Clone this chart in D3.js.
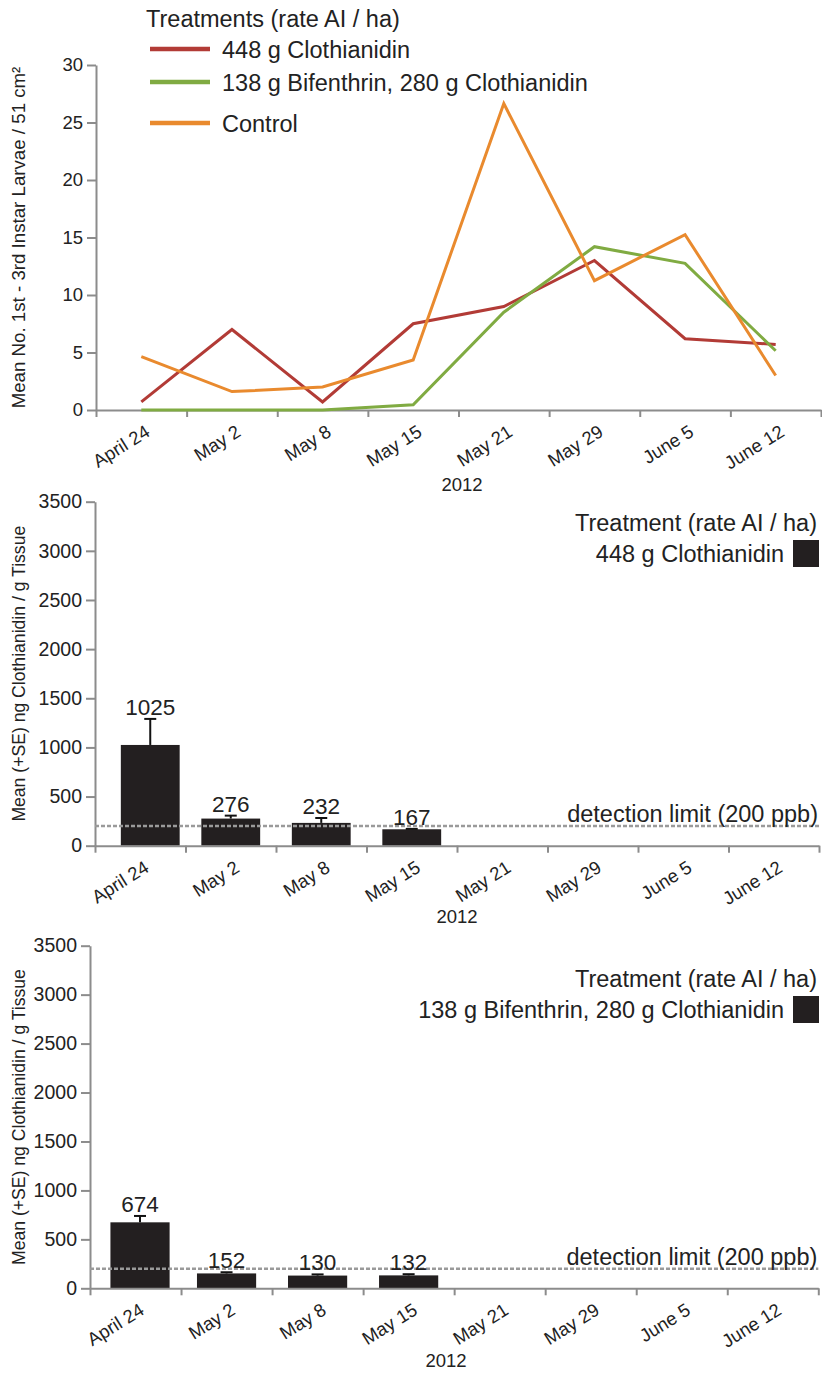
<!DOCTYPE html>
<html>
<head>
<meta charset="utf-8">
<script src="https://cdn.jsdelivr.net/npm/d3@7"></script>
<style>
  body { margin: 0; background: #fff; }
  svg text { font-family: "Liberation Sans", Arial, sans-serif; fill: #222; }
</style>
</head>
<body>
<div id="graph"></div>
<script>
// sampling dates (2012)
var dates = ["April 24", "May 2", "May 8", "May 15", "May 21", "May 29", "June 5", "June 12"];

// top panel: mean larvae per sample
var lineNames = ["448 g Clothianidin", "138 g Bifenthrin, 280 g Clothianidin", "Control"];
var clothianidin448 = [0.7, 7.0, 0.7, 7.5, 9.0, 13.0, 6.2, 5.7];
var bifenthrinMix = [0, 0, 0, 0.45, 8.5, 14.2, 12.75, 5.15];
var control = [4.65, 1.6, 2.0, 4.35, 26.65, 11.25, 15.25, 3.0];
var larvaeTicks = [0, 5, 10, 15, 20, 25, 30];

// residue panels (first four dates only)
var residueTicks = [0, 500, 1000, 1500, 2000, 2500, 3000, 3500];
var residue448 = [1025, 276, 232, 167];
var se448 = [265, 30, 50, 4];
var residueMix = [674, 152, 130, 132];
var seMix = [65, 12, 12, 12];
var detectionLimit = 200;

var colors = ["#b23b36", "#80ab42", "#e98a2e"];
var axisGray = "#8c8c8c";

var svg = d3.select("#graph").append("svg")
    .attr("width", 822)
    .attr("height", 1373);

// shared x axis: 8 bands, ticks at band edges, rotated labels
function drawXAxis(g, x, y0, left, right, yearX, yearY) {
    var edges = d3.scaleLinear().domain([0, dates.length]).range([left, right]);
    g.append("g")
        .attr("transform", "translate(0," + y0 + ")")
        .call(d3.axisBottom(edges).tickValues(d3.range(dates.length + 1)).tickFormat("").tickSize(7).tickSizeOuter(0))
        .call(a => a.selectAll("line, path").attr("stroke", axisGray).attr("stroke-width", 2));

    g.selectAll(".xlab").data(dates).enter()
        .append("text")
        .attr("transform", d => "translate(" + (x(d) + x.bandwidth() / 2 + 10) + "," + (y0 + 25) + ") rotate(-32)")
        .attr("text-anchor", "end")
        .style("font-size", "18.5px")
        .text(d => d);

    g.append("text")
        .attr("x", yearX).attr("y", yearY)
        .attr("text-anchor", "middle")
        .style("font-size", "18.5px")
        .text("2012");
}

function drawYAxis(g, y, ticks, left, fontSize) {
    g.append("g")
        .attr("transform", "translate(" + left + ",0)")
        .call(d3.axisLeft(y).tickValues(ticks).tickFormat(d3.format("d")).tickSize(9).tickSizeOuter(0).tickPadding(4))
        .call(a => a.selectAll("line, path").attr("stroke", axisGray).attr("stroke-width", 2))
        .call(a => a.selectAll("text").style("font-size", fontSize + "px").attr("fill", "#222"));
}

// ---------- top panel: line chart ----------
(function () {
    var left = 96, right = 821, top = 65, bottom = 410;
    var g = svg.append("g");
    var x = d3.scaleBand().domain(dates).range([left, right]);
    var y = d3.scaleLinear().domain([0, 30]).range([bottom, top]);

    drawYAxis(g, y, larvaeTicks, left, 18.5);
    drawXAxis(g, x, bottom, left, right, 462, 491);

    g.append("text")
        .attr("transform", "translate(25," + (top + bottom) / 2 + ") rotate(-90)")
        .attr("text-anchor", "middle")
        .style("font-size", "18.7px")
        .text("Mean No. 1st - 3rd Instar Larvae / 51 cm²");

    var line = d3.line()
        .x((d, i) => x(dates[i]) + x.bandwidth() / 2)
        .y(d => y(d));

    var series = [clothianidin448, bifenthrinMix, control];
    series.forEach(function (s, i) {
        g.append("path")
            .attr("d", line(s))
            .attr("fill", "none")
            .attr("stroke", colors[i])
            .attr("stroke-width", 3)
            .attr("stroke-linejoin", "miter");
    });

    // legend
    g.append("text").attr("x", 146).attr("y", 27).style("font-size", "23.5px").text("Treatments (rate AI / ha)");
    var legY = [49, 82, 123];
    lineNames.forEach(function (n, i) {
        g.append("line")
            .attr("x1", 150).attr("x2", 210)
            .attr("y1", legY[i]).attr("y2", legY[i])
            .attr("stroke", colors[i]).attr("stroke-width", 4.5);
        g.append("text")
            .attr("x", 222).attr("y", legY[i] + 9)
            .style("font-size", "23.5px")
            .text(n);
    });
})();

// ---------- residue bar panels ----------
function barPanel(p) {
    var g = svg.append("g");
    var xb = d3.scaleBand().domain(dates).range([p.left, p.right]);
    var y = d3.scaleLinear().domain([0, 3500]).range([p.bottom, p.top]);

    drawYAxis(g, y, residueTicks, p.left, 19.5);

    g.append("text")
        .attr("transform", "translate(25," + (p.top + p.bottom) / 2 + ") rotate(-90)")
        .attr("text-anchor", "middle")
        .style("font-size", "17.6px")
        .text("Mean (+SE) ng Clothianidin / g Tissue");

    var bw = xb.bandwidth() * 0.65;
    var cx = (d, i) => xb(dates[i]) + xb.bandwidth() / 2 + (i === 0 ? p.firstShift : 0);

    // bars
    g.selectAll(".bar").data(p.values).enter()
        .append("rect")
        .attr("x", (d, i) => cx(d, i) - bw / 2)
        .attr("width", bw)
        .attr("y", d => y(d))
        .attr("height", d => p.bottom - y(d))
        .attr("fill", "#231f20");

    // detection limit
    g.append("line")
        .attr("x1", p.left).attr("x2", p.right)
        .attr("y1", y(detectionLimit)).attr("y2", y(detectionLimit))
        .attr("stroke", "#9a9a9a").attr("stroke-width", 2.5)
        .attr("stroke-dasharray", "4,2");
    g.append("text")
        .attr("x", p.right - 1).attr("y", y(detectionLimit) - 4)
        .attr("text-anchor", "end")
        .style("font-size", "23.5px")
        .text("detection limit (200 ppb)");

    // error bars + value labels
    p.values.forEach(function (v, i) {
        var top = y(v + p.se[i]);
        var c = cx(v, i);
        g.append("line").attr("x1", c).attr("x2", c).attr("y1", y(v)).attr("y2", top)
            .attr("stroke", "#111").attr("stroke-width", 2);
        g.append("line").attr("x1", c - 6).attr("x2", c + 6).attr("y1", top).attr("y2", top)
            .attr("stroke", "#111").attr("stroke-width", 2);
        g.append("text")
            .attr("x", c).attr("y", top - 4)
            .attr("text-anchor", "middle")
            .style("font-size", "22.5px")
            .attr("fill", "#111")
            .text(v);
    });

    drawXAxis(g, xb, p.bottom, p.left, p.right, p.yearX, p.yearY);

    // legend
    g.append("text").attr("x", 817).attr("y", p.legY).attr("text-anchor", "end")
        .style("font-size", "23.5px").text("Treatment (rate AI / ha)");
    g.append("text").attr("x", 784).attr("y", p.legY + 31).attr("text-anchor", "end")
        .style("font-size", "23.5px").text(p.name);
    g.append("rect").attr("x", 793).attr("y", p.legY + 9).attr("width", 26).attr("height", 27)
        .attr("fill", "#231f20");
}

barPanel({ left: 95, right: 819, top: 501.7, bottom: 845.7, values: residue448, se: se448,
    name: lineNames[0], legY: 531, yearX: 457, yearY: 923, firstShift: 10 });
barPanel({ left: 90, right: 818.3, top: 945.7, bottom: 1288.3, values: residueMix, se: seMix,
    name: lineNames[1], legY: 987, yearX: 446, yearY: 1367, firstShift: 4.5 });
</script>
</body>
</html>
